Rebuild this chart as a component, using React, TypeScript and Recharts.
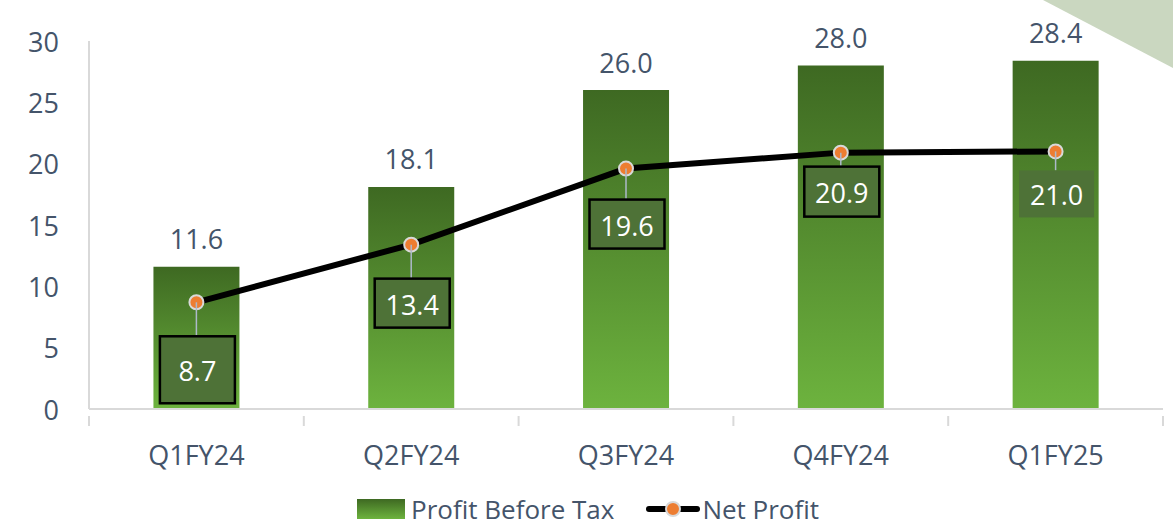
import React from 'react';
import {
  ComposedChart, Bar, Line, XAxis, YAxis, Legend, LabelList,
} from 'recharts';

// Données du graphique (en crores)
const quarters = ['Q1FY24', 'Q2FY24', 'Q3FY24', 'Q4FY24', 'Q1FY25'];
const profitBeforeTax = [11.6, 18.1, 26.0, 28.0, 28.4];
const netProfit = [8.7, 13.4, 19.6, 20.9, 21.0];
const yTicks = [0, 5, 10, 15, 20, 25, 30];

const data = quarters.map((q, i) => ({
  quarter: q,
  pbt: profitBeforeTax[i],
  np: netProfit[i],
}));

const W = 1173;
const H = 528;
const MARGIN = { top: 41, right: 10, left: 0, bottom: 19 };
const Y_AXIS_W = 89;
const BAND = (W - MARGIN.left - MARGIN.right - Y_AXIS_W) / quarters.length;

const FONT = '"Open Sans", sans-serif';
const TEXT = '#44546A';
const AXIS = '#D9D9D9';

// réglages de chaque étiquette du bénéfice net (écart sous le point, hauteur de la boîte)
const npGap = [34, 34, 31, 14, 19];
const npBoxH = [67, 49, 49, 50, 47];
const npBorder = [true, true, true, true, false];

function XTick(props: any) {
  const { x, y, payload, index } = props;
  const left = x - BAND / 2;
  return (
    <g>
      <line x1={left} y1={y - 1} x2={left} y2={y + 9} stroke={AXIS} strokeWidth={2} />
      {index === quarters.length - 1 && (
        <line x1={left + BAND} y1={y - 1} x2={left + BAND} y2={y + 9} stroke={AXIS} strokeWidth={2} />
      )}
      <text x={x} y={y + 37} textAnchor="middle" dominantBaseline="central"
        fill={TEXT} fontSize={27} fontFamily={FONT}>
        {payload.value}
      </text>
    </g>
  );
}

function YTick(props: any) {
  const { x, y, payload } = props;
  return (
    <text x={x - 22} y={y} textAnchor="end" dominantBaseline="central"
      fill={TEXT} fontSize={27} fontFamily={FONT}>
      {payload.value}
    </text>
  );
}

function BarTopLabel(props: any) {
  const { x, y, width, value } = props;
  return (
    <text x={x + width / 2} y={y - 28} textAnchor="middle" dominantBaseline="central"
      fill={TEXT} fontSize={27} fontFamily={FONT}>
      {Number(value).toFixed(1)}
    </text>
  );
}

function NpLabel(props: any) {
  const { x, y, value, index } = props;
  const gap = npGap[index] ?? 30;
  const h = npBoxH[index] ?? 49;
  const w = 75;
  const top = y + gap;
  return (
    <g>
      <line x1={x} y1={y} x2={x} y2={top} stroke="#ADB9CA" strokeWidth={1.5} />
      <rect x={x - w / 2 + 1} y={top} width={w} height={h} fill="#4E7237"
        stroke={npBorder[index] ? '#000' : 'none'} strokeWidth={2.5} />
      <text x={x + 1} y={top + h / 2 + 1} textAnchor="middle" dominantBaseline="central"
        fill="#fff" fontSize={27} fontFamily={FONT}>
        {Number(value).toFixed(1)}
      </text>
    </g>
  );
}

function NpDot(props: any) {
  const { cx, cy } = props;
  return <circle cx={cx} cy={cy} r={7} fill="#ED7D31" stroke="#D9D9D9" strokeWidth={2} />;
}

function LegendBox() {
  return (
    <div style={{ display: 'flex', alignItems: 'center', marginLeft: 357, fontFamily: FONT, fontSize: 26, color: TEXT, height: 30, lineHeight: '30px' }}>
      <svg width={48} height={20} style={{ marginRight: 6 }}>
        <rect x={0} y={0} width={48} height={20} fill="url(#pbtGrad)" />
      </svg>
      <span style={{ marginRight: 32 }}>Profit Before Tax</span>
      <svg width={54} height={20} style={{ marginRight: 2 }}>
        <line x1={3} y1={10} x2={51} y2={10} stroke="#000" strokeWidth={6} strokeLinecap="round" />
        <circle cx={27} cy={10} r={7} fill="#ED7D31" stroke="#D9D9D9" strokeWidth={2} />
      </svg>
      <span>Net Profit</span>
    </div>
  );
}

export default function App() {
  return (
    <div style={{ position: 'absolute', left: 0, top: 0, width: W, height: H, background: '#fff' }}>
      <svg width={W} height={H} style={{ position: 'absolute', left: 0, top: 0 }}>
        <polygon points="1043,0 1173,0 1173,68" fill="#CAD7C0" />
      </svg>
      <ComposedChart width={W} height={H} data={data} margin={MARGIN} barCategoryGap="30%">
        <defs>
          <linearGradient id="pbtGrad" x1="0" y1="0" x2="0" y2="1">
            <stop offset="0%" stopColor="#3E6922" />
            <stop offset="100%" stopColor="#6DB33E" />
          </linearGradient>
        </defs>
        <XAxis
          dataKey="quarter"
          height={70}
          axisLine={{ stroke: AXIS, strokeWidth: 2 }}
          tickLine={false}
          tick={<XTick />}
          interval={0}
        />
        <YAxis
          width={Y_AXIS_W}
          domain={[0, 30]}
          ticks={yTicks}
          axisLine={{ stroke: AXIS, strokeWidth: 2 }}
          tickLine={false}
          tick={<YTick />}
        />
        <Legend
          verticalAlign="bottom"
          content={<LegendBox />}
          wrapperStyle={{ top: 494, bottom: 'auto', left: 0, width: W, height: 30 }}
        />
        <Bar dataKey="pbt" name="Profit Before Tax" fill="url(#pbtGrad)" isAnimationActive={false}>
          <LabelList dataKey="pbt" content={<BarTopLabel />} />
        </Bar>
        <Line
          dataKey="np"
          name="Net Profit"
          type="linear"
          stroke="#000"
          strokeWidth={6}
          dot={<NpDot />}
          activeDot={false}
          isAnimationActive={false}
        >
          <LabelList dataKey="np" content={<NpLabel />} />
        </Line>
      </ComposedChart>
    </div>
  );
}
